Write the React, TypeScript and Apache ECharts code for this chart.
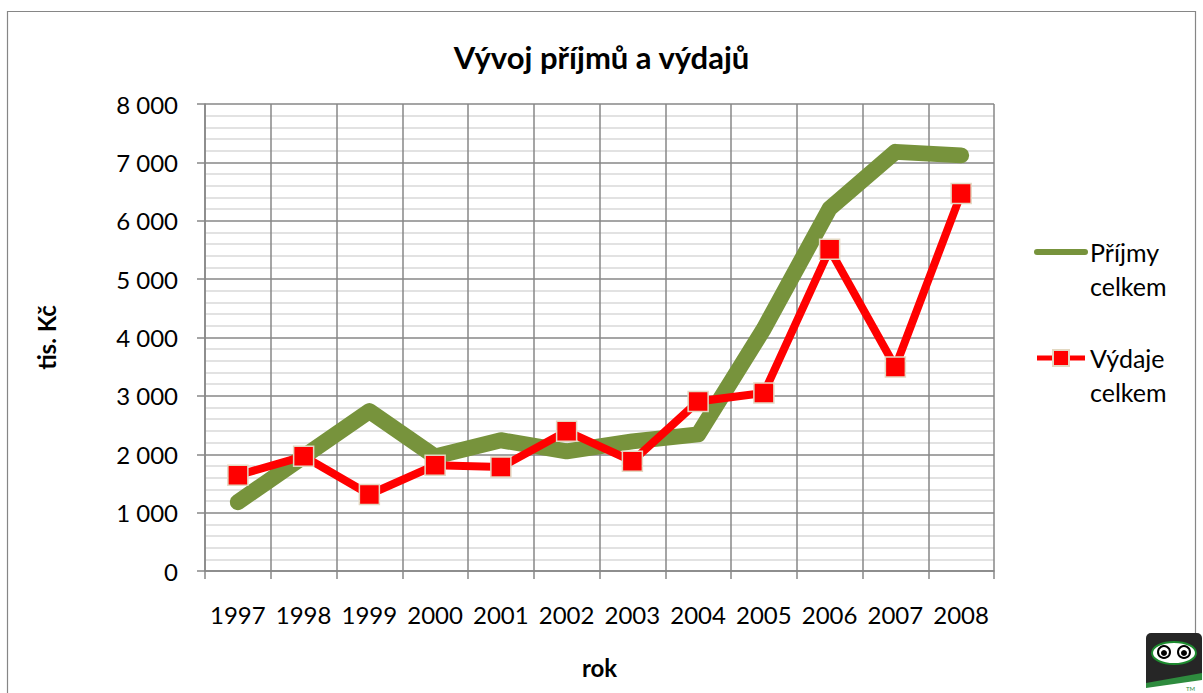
import React, { useEffect, useRef } from "react";
import * as echarts from "echarts";

const years = ["1997", "1998", "1999", "2000", "2001", "2002", "2003", "2004", "2005", "2006", "2007", "2008"];
const prijmy = [1180, 1960, 2740, 1960, 2240, 2050, 2220, 2340, 4150, 6210, 7180, 7120];
const vydaje = [1640, 1965, 1310, 1810, 1780, 2395, 1880, 2905, 3050, 5510, 3495, 6465];
const seriesNames = ["Příjmy celkem", "Výdaje celkem"];
const titleText = "Vývoj příjmů a výdajů";
const yName = "tis. Kč";
const xName = "rok";

const FONT = "Lato, 'Open Sans', sans-serif";

export default function App() {
  const ref = useRef<HTMLDivElement>(null);
  useEffect(() => {
    if (!ref.current) return;
    const chart = echarts.init(ref.current, null, { renderer: "svg" });
    chart.setOption({
      animation: false,
      backgroundColor: "#ffffff",
      textStyle: { fontFamily: FONT },
      title: {
        text: titleText,
        left: "center",
        top: 36,
        textStyle: { fontFamily: FONT, fontSize: 31, fontWeight: "bold", color: "#000" },
      },
      grid: { left: 205, top: 104, right: 209, bottom: 122, containLabel: false },
      legend: {
        orient: "vertical",
        left: 1034,
        top: 201,
        padding: 0,
        itemWidth: 48,
        itemHeight: 20,
        itemGap: 4,
        formatter: (n: string) => "\n" + n.replace(" ", "\n"),
        textStyle: { fontFamily: FONT, fontSize: 25, color: "#000", lineHeight: 34 },
        data: [
          { name: seriesNames[0], lineStyle: { width: 6 }, itemStyle: { opacity: 0 } },
          { name: seriesNames[1], lineStyle: { width: 5 } },
        ],
      },
      xAxis: {
        type: "category",
        data: years,
        boundaryGap: true,
        name: xName,
        nameLocation: "middle",
        nameGap: 84,
        nameTextStyle: { fontFamily: FONT, fontSize: 24, fontWeight: "bold", color: "#000" },
        axisLine: { lineStyle: { color: "#878787", width: 1.5 } },
        axisTick: { show: true, length: 8, alignWithLabel: false, lineStyle: { color: "#878787", width: 1.5 } },
        axisLabel: { fontFamily: FONT, fontSize: 24, color: "#000", margin: 31, interval: 0 },
        splitLine: { show: true, lineStyle: { color: "#878787", width: 1.5 } },
      },
      yAxis: {
        type: "value",
        min: 0,
        max: 8000,
        interval: 1000,
        name: yName,
        nameLocation: "middle",
        nameRotate: 90,
        nameGap: 147,
        nameTextStyle: { fontFamily: FONT, fontSize: 24, fontWeight: "bold", color: "#000" },
        axisLine: { show: true, lineStyle: { color: "#878787", width: 1.5 } },
        axisTick: { show: true, length: 8, lineStyle: { color: "#878787", width: 1.5 } },
        axisLabel: {
          fontFamily: FONT,
          fontSize: 24,
          color: "#000",
          margin: 27,
          formatter: (v: number) => {
            const s = String(v);
            return s.length > 3 ? s.slice(0, s.length - 3) + " " + s.slice(-3) : s;
          },
        },
        splitLine: { show: true, lineStyle: { color: "#878787", width: 1.5 } },
        minorTick: { show: false, splitNumber: 5 },
        minorSplitLine: { show: true, lineStyle: { color: "#d9d9d9", width: 1.5 } },
      },
      series: [
        {
          name: seriesNames[0],
          type: "line",
          data: prijmy,
          symbol: "none",
          color: "#77933c",
          lineStyle: { color: "#77933c", width: 16, cap: "round", join: "round" },
          z: 2,
        },
        {
          name: seriesNames[1],
          type: "line",
          data: vydaje,
          symbol: "rect",
          symbolSize: 20,
          color: "#ff0000",
          lineStyle: { color: "#ff0000", width: 8, join: "miter" },
          itemStyle: { color: "#ff0000", borderColor: "#e3d8c2", borderWidth: 1.5 },
          z: 3,
        },
      ],
      graphic: [
        {
          type: "rect",
          shape: { x: 7.5, y: 11.5, width: 1188, height: 700 },
          style: { fill: "none", stroke: "#868686", lineWidth: 1.2 },
          silent: true,
        },
        {
          type: "group",
          left: 1146,
          top: 633,
          children: [
            { type: "rect", shape: { x: 0, y: 0, width: 56, height: 62, r: 5 }, style: { fill: "#262626" } },
            { type: "ellipse", shape: { cx: 28, cy: 20, rx: 22, ry: 11 }, style: { fill: "#ffffff", stroke: "#1c8a2e", lineWidth: 2 } },
            { type: "circle", shape: { cx: 18, cy: 19, r: 6 }, style: { fill: "#ffffff", stroke: "#000", lineWidth: 2 } },
            { type: "circle", shape: { cx: 38, cy: 19, r: 6 }, style: { fill: "#ffffff", stroke: "#000", lineWidth: 2 } },
            { type: "circle", shape: { cx: 18, cy: 20, r: 3 }, style: { fill: "#000" } },
            { type: "circle", shape: { cx: 38, cy: 20, r: 3 }, style: { fill: "#000" } },
            { type: "polygon", shape: { points: [[0, 50], [56, 40], [56, 62], [0, 62]] }, style: { fill: "#2e8b3e" } },
            { type: "polygon", shape: { points: [[0, 55], [56, 47], [56, 62], [0, 62]] }, style: { fill: "#ffffff" } },
            { type: "text", style: { x: 40, y: 52, text: "TM", fontSize: 6, fill: "#2e8b3e", fontFamily: FONT } },
          ],
        },
      ],
    });
    return () => chart.dispose();
  }, []);
  return <div ref={ref} style={{ position: "fixed", left: 0, top: 0, width: 1203, height: 693 }} />;
}
